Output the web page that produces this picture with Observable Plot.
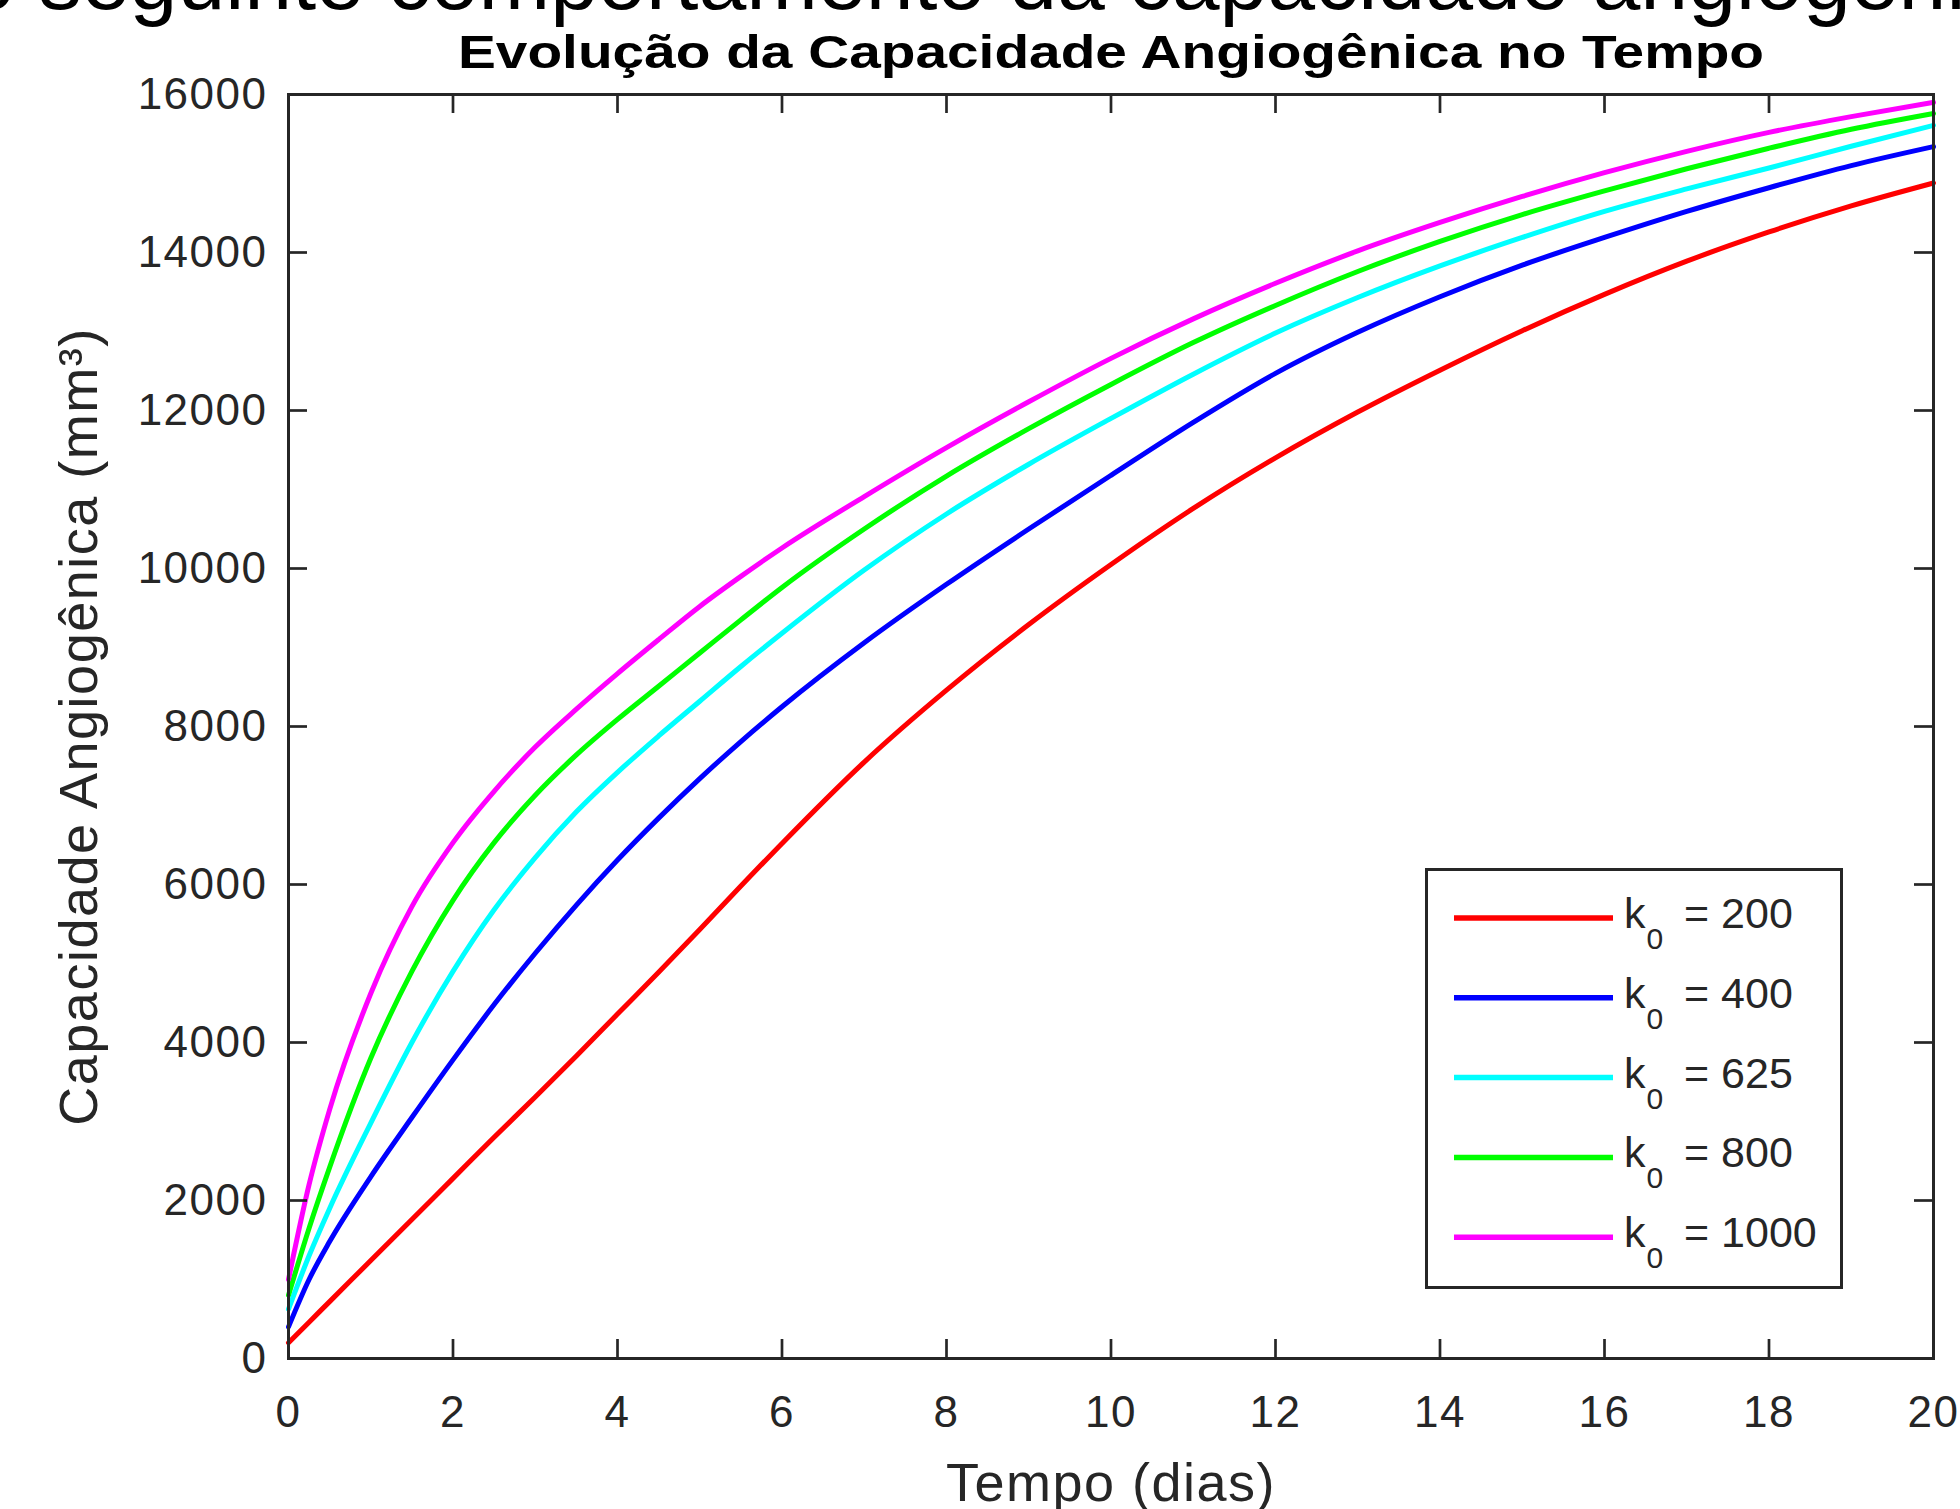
<!DOCTYPE html>
<html>
<head>
<meta charset="utf-8">
<script src="https://cdn.jsdelivr.net/npm/d3@7"></script>
<script src="https://cdn.jsdelivr.net/npm/@observablehq/plot@0.6"></script>
<style>
html, body { margin: 0; padding: 0; background: #fff; }
#wrap { position: relative; width: 1960px; height: 1509px; overflow: hidden; font-family: "Liberation Sans", Arial, sans-serif; color: #262626; background: #fff; }
#slide { position: absolute; left: -33px; top: -64px; font-size: 86px; line-height: 86px; white-space: nowrap; color: #000; }
#title { position: absolute; left: 0; top: 29px; font-size: 47px; line-height: 46px; font-weight: bold; color: #000; white-space: nowrap; transform-origin: 0 0; }
#chart { position: absolute; left: 0; top: 60px; }
#legend { position: absolute; left: 1425px; top: 868px; width: 418px; height: 421px; box-sizing: border-box; border: 3px solid #262626; background: #fff; }
#chart svg text { letter-spacing: 1.5px; }
</style>
</head>
<body>
<div id="wrap">
  <div id="slide">o seguinte comportamento da capacidade angiogênica</div>
  <div id="chart"></div>
  <div id="title">Evolução da Capacidade Angiogênica no Tempo</div>
  <div id="legend"></div>
</div>
<script>
// ---- data ----
const tDias = [0, 0.25, 0.5, 1, 1.5, 2, 2.5, 3, 3.5, 4, 4.5, 5, 5.5, 6, 7, 8, 9, 10, 11, 12, 13, 14, 15, 16, 17, 18, 19, 20];
const k200  = [200, 460, 720, 1240, 1760, 2280, 2800, 3310, 3830, 4360, 4890, 5430, 5980, 6520, 7550, 8460, 9290, 10050, 10760, 11400, 11980, 12510, 13010, 13470, 13890, 14260, 14590, 14880];
const k400  = [400, 1000, 1480, 2300, 3050, 3780, 4480, 5130, 5740, 6310, 6840, 7340, 7810, 8250, 9060, 9800, 10500, 11180, 11850, 12470, 12990, 13440, 13840, 14190, 14520, 14820, 15100, 15340];
const k625  = [625, 1300, 1900, 2980, 4000, 4900, 5680, 6340, 6920, 7420, 7880, 8320, 8760, 9180, 9980, 10690, 11320, 11900, 12460, 12980, 13430, 13830, 14190, 14520, 14805, 15070, 15345, 15610];
const k800  = [800, 1650, 2420, 3800, 4900, 5800, 6530, 7130, 7640, 8090, 8510, 8930, 9350, 9760, 10500, 11170, 11770, 12330, 12860, 13330, 13760, 14140, 14480, 14780, 15060, 15320, 15560, 15760];
const k1000 = [1000, 2200, 3150, 4620, 5720, 6530, 7180, 7740, 8220, 8670, 9100, 9520, 9900, 10260, 10910, 11530, 12110, 12660, 13160, 13610, 14020, 14380, 14710, 15010, 15280, 15520, 15720, 15900];
const kValues = ["200", "400", "625", "800", "1000"];
const seriesColors = ["#ff0000", "#0000ff", "#00ffff", "#00ff00", "#ff00ff"];
const xTicks = [0, 2, 4, 6, 8, 10, 12, 14, 16, 18, 20];
const yTicks = [0, 2000, 4000, 6000, 8000, 10000, 12000, 14000, 16000];
const xLabel = "Tempo (dias)";
const yLabel = "Capacidade Angiogênica (mm³)";

const allSeries = [k200, k400, k625, k800, k1000];
const rows = allSeries.flatMap((vals, s) => tDias.map((t, i) => ({t, v: vals[i], k: kValues[s]})));

// ---- layout ----
const W = 1960, H = 1449;
const mL = 288, mR = 27, mT = 34, mB = 151;
const innerW = W - mL - mR, innerH = H - mT - mB;
const tickLen = 19;
const axisColor = "#262626";

const chart = Plot.plot({
  width: W, height: H,
  marginLeft: mL, marginRight: mR, marginTop: mT, marginBottom: mB,
  style: {fontFamily: "'Liberation Sans', Arial, sans-serif", fontSize: "44px", color: axisColor, background: "white"},
  x: {domain: [0, 20], ticks: xTicks, tickSize: 0, tickPadding: 37, label: null, tickFormat: d => String(d)},
  y: {domain: [0, 16000], ticks: yTicks, tickSize: 0, tickPadding: 21, label: null, tickFormat: d => String(d)},
  color: {domain: kValues, range: seriesColors},
  marks: [
    Plot.line(rows, {x: "t", y: "v", z: "k", stroke: "k", strokeWidth: 5, curve: "monotone-x"}),
    Plot.ruleX(xTicks, {x: d => d, insetTop: innerH - tickLen, stroke: axisColor, strokeWidth: 2.7}),
    Plot.ruleX(xTicks, {x: d => d, insetBottom: innerH - tickLen, stroke: axisColor, strokeWidth: 2.7}),
    Plot.ruleY(yTicks, {y: d => d, insetRight: innerW - tickLen, stroke: axisColor, strokeWidth: 2.7}),
    Plot.ruleY(yTicks, {y: d => d, insetLeft: innerW - tickLen, stroke: axisColor, strokeWidth: 2.7}),
    Plot.frame({stroke: axisColor, strokeWidth: 3}),
    Plot.text([yLabel], {frameAnchor: "left", textAnchor: "middle", dx: -209, rotate: -90, fontSize: 54, fill: axisColor, text: d => d}),
    Plot.text([xLabel], {frameAnchor: "bottom", textAnchor: "middle", dy: 142, fontSize: 54, fill: axisColor, text: d => d})
  ]
});
document.getElementById("chart").appendChild(chart);

// ---- title: centred over the plot, stretched to the reference width ----
const title = document.getElementById("title");
const natural = title.getBoundingClientRect().width;
const targetW = 1306;
const sx = targetW / natural;
const cx = mL + innerW / 2;
title.style.left = (cx - targetW / 2) + "px";
title.style.transform = `scaleX(${sx})`;

// ---- legend ----
const lg = d3.select("#legend").append("svg").attr("width", 412).attr("height", 415)
  .style("font-family", "'Liberation Sans', Arial, sans-serif");
kValues.forEach((k, i) => {
  const cy = 47 + i * 79.8;
  lg.append("line").attr("x1", 26).attr("x2", 185).attr("y1", cy).attr("y2", cy)
    .attr("stroke", seriesColors[i]).attr("stroke-width", 5.5);
  const t = lg.append("text").attr("x", 196).attr("y", cy + 10).attr("fill", "#262626");
  t.append("tspan").attr("font-size", 43).text("k");
  t.append("tspan").attr("font-size", 30).attr("dy", 21).attr("dx", 1).text("0");
  t.append("tspan").attr("font-size", 43).attr("x", 256).attr("dy", -21).text("= " + k);
});
</script>
</body>
</html>
